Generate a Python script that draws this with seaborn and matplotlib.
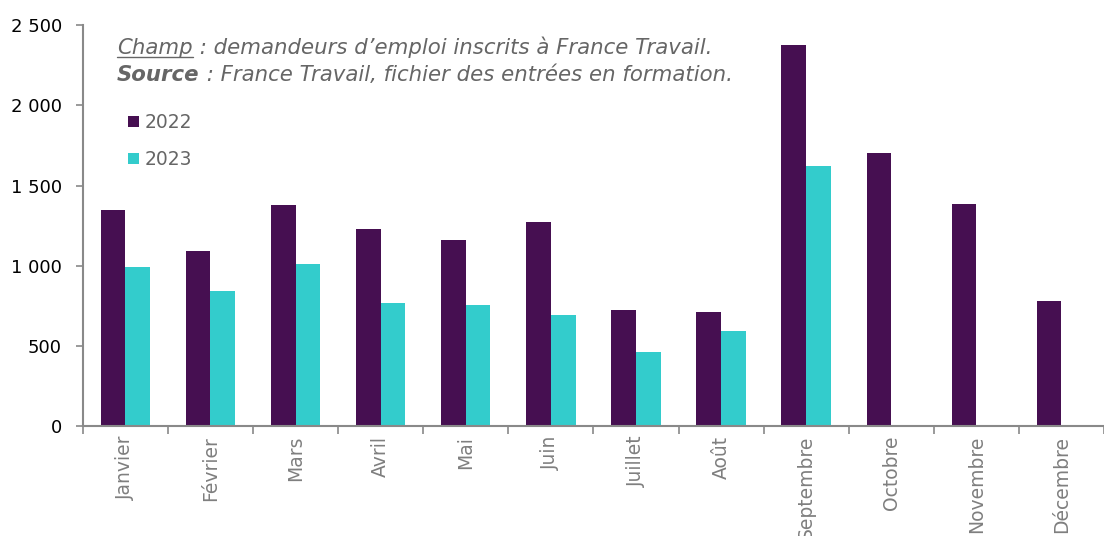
import numpy as np
import pandas as pd
import seaborn as sns
import matplotlib.pyplot as plt
from matplotlib.ticker import FuncFormatter, FixedLocator

mois = ['Janvier', 'Février', 'Mars', 'Avril', 'Mai', 'Juin', 'Juillet',
        'Août', 'Septembre', 'Octobre', 'Novembre', 'Décembre']
v2022 = [1350, 1090, 1378, 1228, 1160, 1272, 722, 712, 2375, 1700, 1382, 778]
v2023 = [995, 842, 1008, 765, 753, 690, 460, 592, 1620, np.nan, np.nan, np.nan]
annees = ['2022', '2023']
couleurs = ['#460F51', '#33CCCC']

df = pd.DataFrame({
    'mois': mois * 2,
    'annee': ['2022'] * 12 + ['2023'] * 12,
    'valeur': v2022 + v2023,
})

sns.set_style('white')
plt.rcParams['font.family'] = ['DejaVu Sans']

fig = plt.figure(figsize=(11.04, 5.36), dpi=100)
ax = fig.add_axes([0.075, 0.205, 0.925, 0.748])

sns.barplot(data=df, x='mois', y='valeur', hue='annee', hue_order=annees,
            palette=couleurs, order=mois, width=0.58, saturation=1,
            linewidth=0, ax=ax)

gris = '#898989'
ax.set_xlim(-0.5, 11.5)
ax.set_ylim(0, 2500)
ax.set_yticks([0, 500, 1000, 1500, 2000, 2500])
ax.yaxis.set_major_formatter(FuncFormatter(lambda v, p: f'{int(v):,}'.replace(',', ' ')))
ax.set_xlabel('')
ax.set_ylabel('')

for s in ['top', 'right']:
    ax.spines[s].set_visible(False)
for s in ['left', 'bottom']:
    ax.spines[s].set_color(gris)
    ax.spines[s].set_linewidth(1.5)

ax.tick_params(axis='y', left=True, length=5, width=1.2, color=gris,
               labelsize=13, labelcolor='black', pad=10)
ax.tick_params(axis='x', which='major', bottom=False, length=0, labelsize=13.5,
               labelcolor='#7f7f7f', labelrotation=90, pad=7)
ax.xaxis.set_minor_locator(FixedLocator(np.arange(-0.5, 12, 1)))
ax.tick_params(axis='x', which='minor', bottom=True, length=6, width=1.2, color=gris)

leg = ax.legend(loc='upper left', bbox_to_anchor=(0.028, 0.822), frameon=False,
                handlelength=0.55, handleheight=0.55, handletextpad=0.3,
                labelspacing=0.95, fontsize=13.5, labelcolor='#666666')

# note champ / source
fig.canvas.draw()
r = fig.canvas.get_renderer()
gris_txt = '#666666'
fs = 15.3
x0, y1, y2 = 117, 536 - 54, 536 - 81
t = fig.text(x0 / 1104, y1 / 536, 'Champ', style='italic', fontsize=fs,
             color=gris_txt)
bb = t.get_window_extent(r)
fig.add_artist(plt.Line2D([bb.x0 / 1104, bb.x1 / 1104],
                          [(bb.y0 + 1) / 536, (bb.y0 + 1) / 536],
                          color=gris_txt, linewidth=1))
fig.text(bb.x1 / 1104, y1 / 536, ' : demandeurs d\u2019emploi inscrits à France Travail.',
         style='italic', fontsize=fs, color=gris_txt)
t2 = fig.text(x0 / 1104, y2 / 536, 'Source', style='italic', weight='bold',
              fontsize=fs, color=gris_txt)
bb2 = t2.get_window_extent(r)
fig.text(bb2.x1 / 1104, y2 / 536, ' : France Travail, fichier des entrées en formation.',
         style='italic', fontsize=fs, color=gris_txt)

fig.savefig('out.png', dpi=100)
